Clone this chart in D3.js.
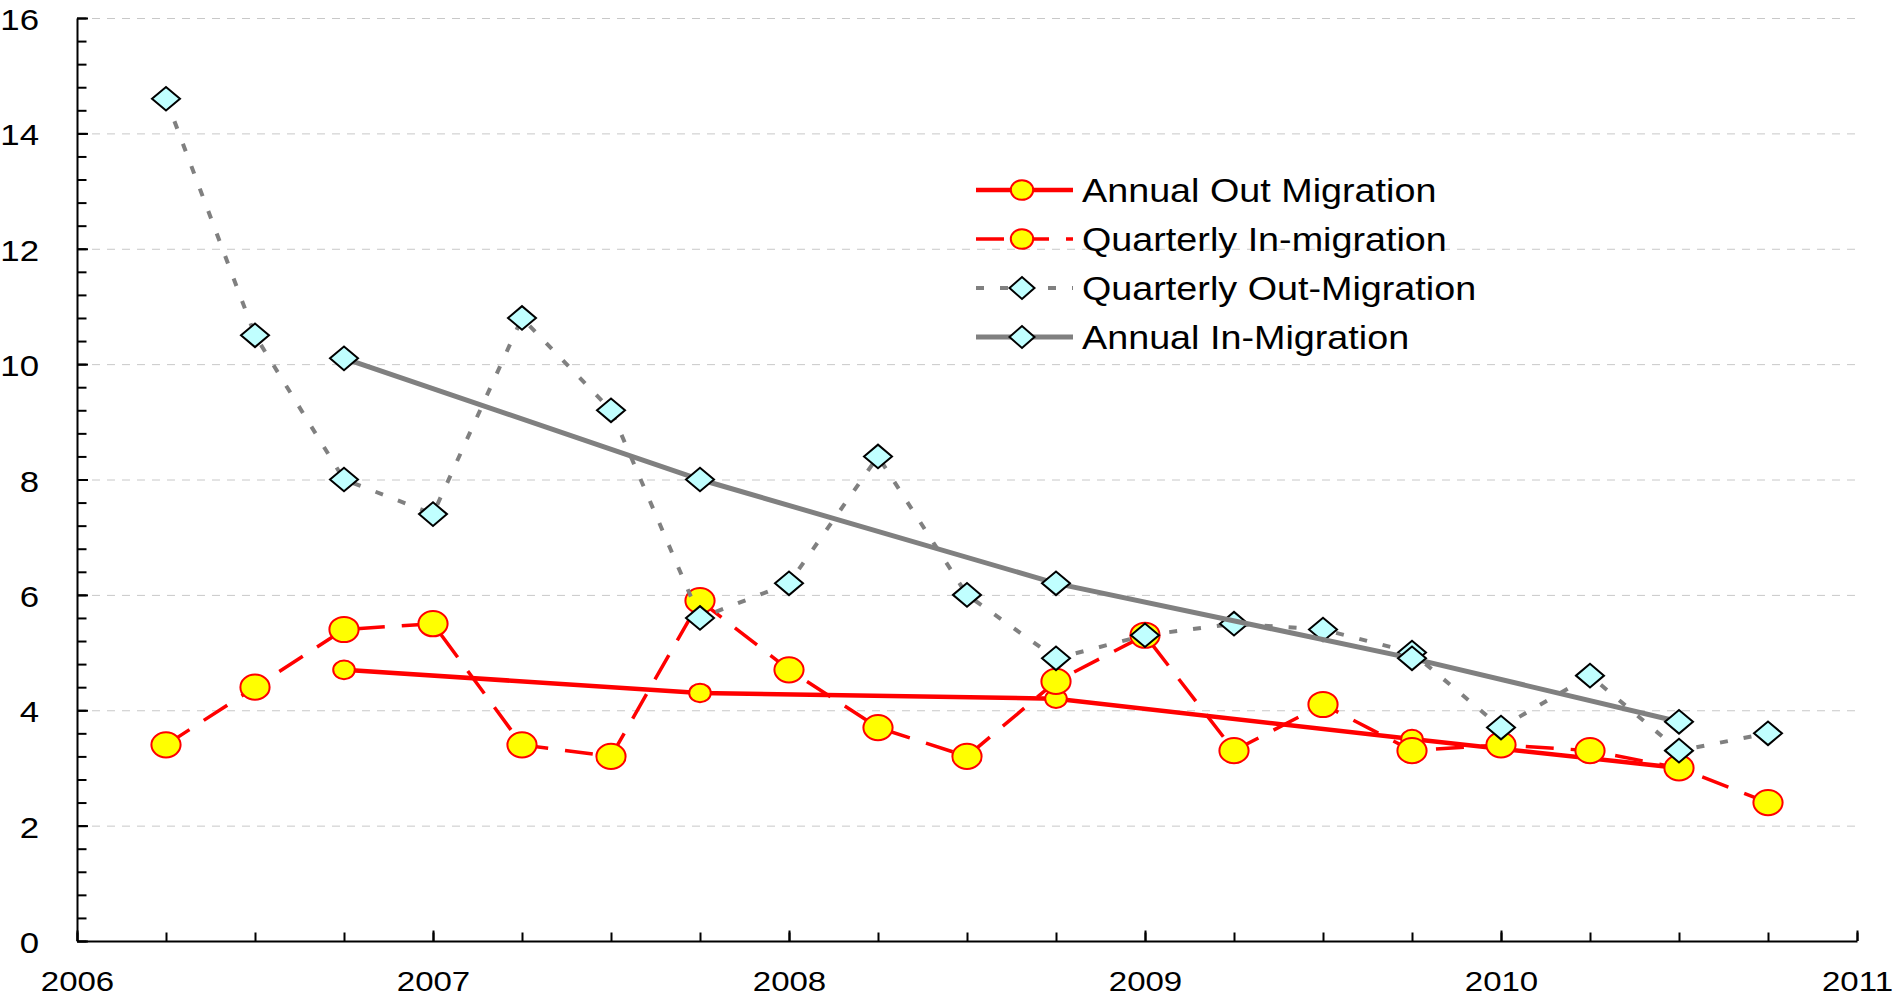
<!DOCTYPE html>
<html>
<head>
  <meta charset="utf-8">
  <style>
    body { margin: 0; background: #fff; }
    text { font-family: "Liberation Sans", Arial, sans-serif; fill: #000; }
    .grid line { stroke: #c8c8c8; stroke-width: 1; stroke-dasharray: 8,7; }
    .grid path { stroke-width: 0; }
    .axis path, .axis line { stroke: #000; stroke-width: 2; }
  </style>
</head>
<body>
  <script src="https://d3js.org/d3.v7.min.js"></script>
  <script>
    // data
    var quarters = [2006.25, 2006.5, 2006.75, 2007, 2007.25, 2007.5, 2007.75, 2008, 2008.25, 2008.5,
                    2008.75, 2009, 2009.25, 2009.5, 2009.75, 2010, 2010.25, 2010.5, 2010.75];
    var quarterlyIn  = [3.4, 4.4, 5.4, 5.5, 3.4, 3.2, 5.9, 4.7, 3.7, 3.2, 4.5, 5.3, 3.3, 4.1, 3.3, 3.4, 3.3, 3.0, 2.4];
    var quarterlyOut = [14.6, 10.5, 8.0, 7.4, 10.8, 9.2, 5.6, 6.2, 8.4, 6.0, 4.9, 5.3, 5.5, 5.4, 5.0, 3.7, 4.6, 3.3, 3.6];
    var annualDates = [2006.75, 2007.75, 2008.75, 2009.75, 2010.5];
    var annualOut = [4.7, 4.3, 4.2, 3.5, 3.0];
    var annualIn  = [10.1, 8.0, 6.2, 4.9, 3.8];
    var xTicks = [2006, 2007, 2008, 2009, 2010, 2011];
    var yTicks = [0, 2, 4, 6, 8, 10, 12, 14, 16];
    var legendNames = ["Annual Out Migration", "Quarterly In-migration", "Quarterly Out-Migration", "Annual In-Migration"];

    var W = 1895, H = 1000;
    var x = d3.scaleLinear().domain([2006, 2011]).range([77, 1857]),
        y = d3.scaleLinear().domain([0, 16]).range([941, 18]);

    var svg = d3.select("body").append("svg")
        .attr("width", W)
        .attr("height", H);

    // horizontal dashed grid
    svg.append("g")
        .attr("class", "grid")
        .attr("transform", "translate(" + x(2006) + ",0)")
        .call(d3.axisLeft(y)
            .tickValues(yTicks.slice(1))
            .tickSize(-(x(2011) - x(2006)))
            .tickFormat(""));

    var red = "#ff0000", gray = "#808080", yellow = "#ffff00", cyan = "#c0ffff";

    function pts(xs, ys) {
      return xs.map(function(d, i) { return [d, ys[i]]; });
    }
    var line = d3.line()
        .x(function(d) { return x(d[0]); })
        .y(function(d) { return y(d[1]); });

    function diamond(cx, cy, w, h) {
      return "M" + (cx - w) + "," + cy + "L" + cx + "," + (cy - h) + "L" + (cx + w) + "," + cy +
             "L" + cx + "," + (cy + h) + "Z";
    }

    var series = [
      {name: legendNames[0], data: pts(annualDates, annualOut), color: red, width: 4.5, dash: null,
       marker: "circle", rx: 10.8, ry: 9.3},
      {name: legendNames[1], data: pts(quarters, quarterlyIn), color: red, width: 3.5, dash: "28,17",
       marker: "circle", rx: 14.6, ry: 12.6},
      {name: legendNames[2], data: pts(quarters, quarterlyOut), color: gray, width: 4, dash: "8,16",
       marker: "diamond", rx: 14, ry: 11.8},
      {name: legendNames[3], data: pts(annualDates, annualIn), color: gray, width: 5, dash: null,
       marker: "diamond", rx: 14, ry: 11.8}
    ];

    function drawMarker(g, s, cx, cy, rx, ry) {
      if (s.marker == "circle") {
        g.append("ellipse")
          .attr("cx", cx).attr("cy", cy)
          .attr("rx", rx).attr("ry", ry)
          .attr("fill", yellow)
          .attr("stroke", red)
          .attr("stroke-width", 2);
      } else {
        g.append("path")
          .attr("d", diamond(cx, cy, rx, ry))
          .attr("fill", cyan)
          .attr("stroke", "#000")
          .attr("stroke-width", 2);
      }
    }

    series.forEach(function(s) {
      var g = svg.append("g");
      g.append("path")
        .datum(s.data)
        .attr("d", line)
        .attr("fill", "none")
        .attr("stroke", s.color)
        .attr("stroke-width", s.width)
        .attr("stroke-dasharray", s.dash);
      s.data.forEach(function(d) {
        drawMarker(g, s, x(d[0]), y(d[1]), s.rx, s.ry);
      });
    });

    // y axis
    var yAxis = svg.append("g")
        .attr("class", "axis")
        .attr("transform", "translate(" + x(2006) + ",0)");
    yAxis.call(d3.axisLeft(y)
        .tickValues(d3.range(0, 16.01, 0.4))
        .tickSizeInner(-9.5)
        .tickSizeOuter(0)
        .tickFormat(""));
    yAxis.append("g").call(d3.axisLeft(y)
        .tickValues(yTicks)
        .tickSizeInner(-11)
        .tickSizeOuter(0)
        .tickPadding(38))
      .call(function(g) { g.select(".domain").remove(); })
      .selectAll("text")
        .attr("x", 0)
        .attr("dy", "0.4em")
        .attr("transform", "translate(-38,0) scale(1.2,1)")
        .style("font-size", "29px");

    // x axis
    var xAxis = svg.append("g")
        .attr("class", "axis")
        .attr("transform", "translate(0," + y(0) + ")");
    xAxis.call(d3.axisBottom(x)
        .tickValues(d3.range(2006, 2011.01, 0.25))
        .tickSizeInner(-8.5)
        .tickSizeOuter(0)
        .tickFormat(""));
    xAxis.append("g").call(d3.axisBottom(x)
        .tickValues(xTicks)
        .tickSizeInner(-10.5)
        .tickSizeOuter(0)
        .tickPadding(30)
        .tickFormat(d3.format("d")))
      .call(function(g) { g.select(".domain").remove(); })
      .selectAll("text")
        .attr("transform", "scale(1.18,1)")
        .style("font-size", "28px");

    // legend
    var legend = svg.append("g");
    var rowY = [190, 239, 288, 337];
    series.forEach(function(s, i) {
      var g = legend.append("g");
      g.append("line")
        .attr("x1", 976).attr("x2", 1073)
        .attr("y1", rowY[i]).attr("y2", rowY[i])
        .attr("stroke", s.color)
        .attr("stroke-width", s.width)
        .attr("stroke-dasharray", s.dash);
      if (s.marker == "circle") drawMarker(g, s, 1022, rowY[i], 11.2, 9.8);
      else drawMarker(g, s, 1022, rowY[i], 12.5, 11);
      g.append("text")
        .attr("transform", "translate(1082," + rowY[i] + ") scale(1.11,1)")
        .attr("dy", "0.35em")
        .style("font-size", "34px")
        .text(s.name);
    });
  </script>
</body>
</html>
